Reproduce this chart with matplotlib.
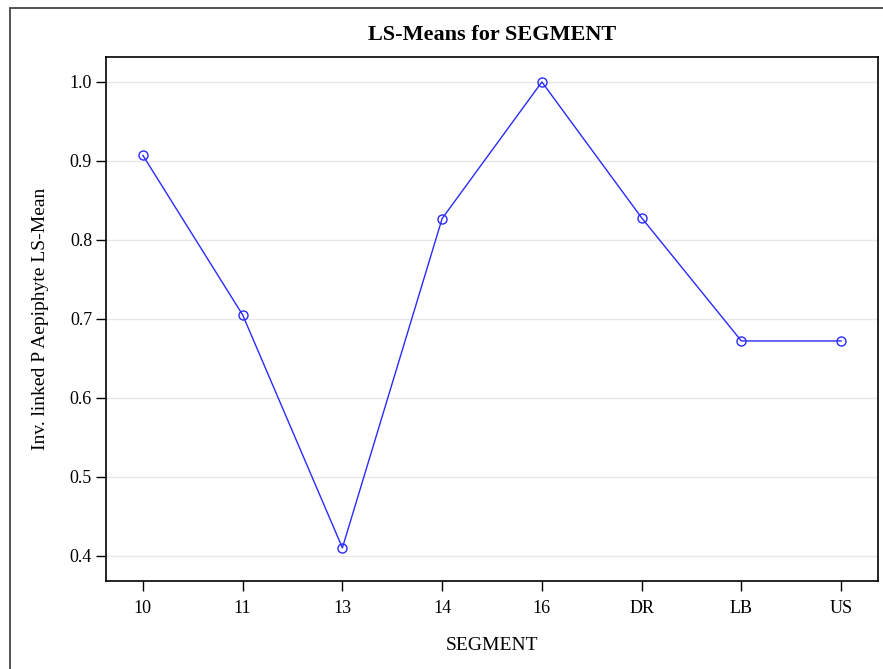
import matplotlib.pyplot as plt
from matplotlib.patches import Rectangle

segments = ['10', '11', '13', '14', '16', 'DR', 'LB', 'US']
ls_means = [0.907, 0.705, 0.410, 0.827, 1.000, 0.828, 0.672, 0.672]
y_ticks = [0.4, 0.5, 0.6, 0.7, 0.8, 0.9, 1.0]

plt.rcParams['font.family'] = ['Liberation Serif', 'DejaVu Serif']

fig = plt.figure(figsize=(8.83, 6.69), dpi=100)
ax = fig.add_axes([106 / 883, 1 - 581 / 669, (878 - 106) / 883, (581 - 57) / 669])

# outer frame, runs off the right and bottom edge
fig.patches.append(Rectangle((9.5 / 883, -0.05), 1.2, 1 - 7.5 / 669 + 0.05,
                             transform=fig.transFigure, fill=False,
                             edgecolor='#444444', linewidth=1.3))

x = list(range(len(segments)))
ax.plot(x, ls_means, color='#2a2aff', linewidth=1.0, marker='o', markersize=6.5,
        markerfacecolor='none', markeredgecolor='#2a2aff', markeredgewidth=1.0, zorder=3)

ax.set_xlim(-0.37, 7.37)
ax.set_ylim(0.368, 1.0316)
ax.set_xticks(x)
ax.set_xticklabels(segments)
ax.set_yticks(y_ticks)
ax.set_yticklabels([f'{v:.1f}' for v in y_ticks])
ax.yaxis.grid(True, color='#e8e8e8', linewidth=1.0)
ax.set_axisbelow(True)

ax.tick_params(axis='both', labelsize=13, length=7, width=1.0, color='black')
ax.tick_params(axis='x', pad=7)
ax.tick_params(axis='y', pad=3)
for s in ax.spines.values():
    s.set_linewidth(1.2)
    s.set_color('black')

ax.set_title('LS-Means for SEGMENT', fontsize=16, fontweight='bold', pad=12)
ax.set_xlabel('SEGMENT', fontsize=14, labelpad=14)
ax.set_ylabel('Inv. linked P Aepiphyte LS-Mean', fontsize=14, labelpad=15)

fig.savefig('out.png', dpi=100)
